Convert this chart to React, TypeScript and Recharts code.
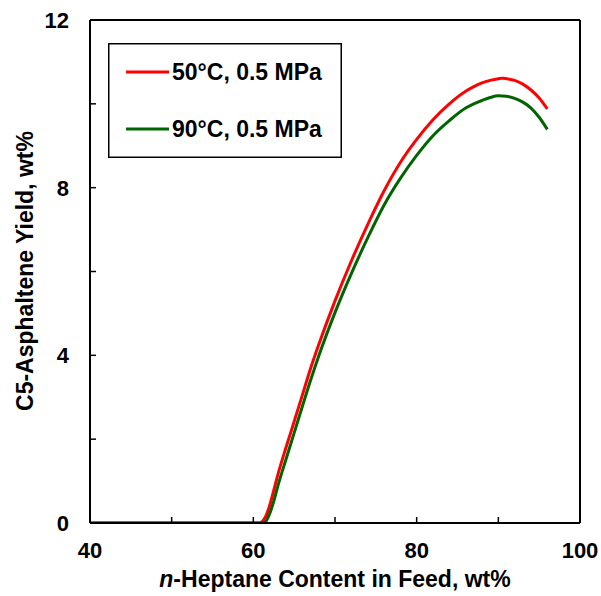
import React from "react";
import { LineChart, Line, XAxis, YAxis, ReferenceLine, Legend, Label } from "recharts";

const heptane50 = [40, 60.8, 61, 61.5, 62, 62.5, 63, 64, 65, 66, 67, 68, 70, 72, 74, 76, 78, 80, 82, 84, 86, 87, 88, 89, 90, 90.5, 91, 92, 93, 94, 95, 96];
const yield50 = [0, 0, 0.02, 0.15, 0.42, 0.78, 1.15, 1.8, 2.42, 3.05, 3.68, 4.25, 5.3, 6.25, 7.12, 7.92, 8.6, 9.15, 9.62, 10.0, 10.3, 10.41, 10.5, 10.56, 10.6, 10.61, 10.6, 10.56, 10.47, 10.33, 10.14, 9.88];

const heptane90 = [40, 61.2, 61.5, 62, 62.5, 63, 64, 65, 66, 67, 68, 70, 72, 74, 76, 78, 80, 82, 84, 86, 87, 88, 89, 90, 91, 92, 93, 94, 95, 96];
const yield90 = [0, 0, 0.03, 0.22, 0.52, 0.88, 1.52, 2.15, 2.78, 3.4, 3.98, 5.02, 5.95, 6.8, 7.58, 8.22, 8.77, 9.24, 9.6, 9.9, 10.0, 10.08, 10.15, 10.19, 10.18, 10.13, 10.04, 9.9, 9.68, 9.39];

const xTicks = [40, 50, 60, 70, 80, 90, 100];
const xLabels = [40, 60, 80, 100];
const yTicks = [0, 2, 4, 6, 8, 10, 12];
const yLabels = [0, 4, 8, 12];

const seriesNames = ["50°C, 0.5 MPa", "90°C, 0.5 MPa"];
const seriesColors = ["#ff0000", "#006400"];

const data50 = heptane50.map((x, i) => ({ x, y: yield50[i] }));
const data90 = heptane90.map((x, i) => ({ x, y: yield90[i] }));

const FONT = "'Liberation Sans', Arial, sans-serif";

const XTick = (props: any) => {
  const { x, y, payload } = props;
  const v = payload.value;
  return (
    <g>
      <line x1={x} x2={x} y1={y} y2={y - 6} stroke="#000" strokeWidth={1.5} />
      {xLabels.includes(v) && (
        <text x={x} y={y + 35} textAnchor="middle" fontFamily={FONT} fontWeight="bold" fontSize={22} fill="#000">
          {v}
        </text>
      )}
    </g>
  );
};

const YTick = (props: any) => {
  const { x, y, payload } = props;
  const v = payload.value;
  return (
    <g>
      <line x1={x} x2={x + 6} y1={y} y2={y} stroke="#000" strokeWidth={1.5} />
      {yLabels.includes(v) && (
        <text x={x - 21} y={y + 8} textAnchor="end" fontFamily={FONT} fontWeight="bold" fontSize={22} fill="#000">
          {v}
        </text>
      )}
    </g>
  );
};

const LegendBox = () => (
  <svg width={234} height={115} style={{ display: "block" }}>
    <rect x={0.75} y={0.75} width={232.5} height={113.5} fill="#fff" stroke="#000" strokeWidth={1.5} />
    {seriesNames.map((name, i) => {
      const cy = i === 0 ? 29 : 86;
      return (
        <g key={name}>
          <line x1={18} x2={61} y1={cy} y2={cy} stroke={seriesColors[i]} strokeWidth={3} />
          <text x={64} y={cy + 8} fontFamily={FONT} fontWeight="bold" fontSize={23} fill="#000">
            {name}
          </text>
        </g>
      );
    })}
  </svg>
);

export default function App() {
  return (
    <div style={{ position: "absolute", left: 0, top: 0, width: 601, height: 596 }}>
      <LineChart width={601} height={596} margin={{ top: 20, right: 21, left: 30, bottom: 23 }}>
        <XAxis
          dataKey="x"
          type="number"
          domain={[40, 100]}
          ticks={xTicks}
          interval={0}
          tickSize={0}
          tickMargin={0}
          tickLine={false}
          tick={<XTick />}
          axisLine={{ stroke: "#000", strokeWidth: 2 }}
          height={50}
          allowDataOverflow
        >
          <Label
            content={() => (
              <text x={335} y={587} textAnchor="middle" fontFamily={FONT} fontWeight="bold" fontSize={23} fill="#000">
                <tspan fontStyle="italic">n</tspan>-Heptane Content in Feed, wt%
              </text>
            )}
          />
        </XAxis>
        <YAxis
          type="number"
          domain={[0, 12]}
          ticks={yTicks}
          interval={0}
          tickSize={0}
          tickMargin={0}
          tickLine={false}
          tick={<YTick />}
          axisLine={{ stroke: "#000", strokeWidth: 2 }}
          width={60}
          allowDataOverflow
        >
          <Label
            content={() => (
              <text
                x={33}
                y={271}
                transform="rotate(-90, 33, 271)"
                textAnchor="middle"
                fontFamily={FONT}
                fontWeight="bold"
                fontSize={23}
                fill="#000"
              >
                C5-Asphaltene Yield, wt%
              </text>
            )}
          />
        </YAxis>
        <ReferenceLine y={12} stroke="#000" strokeWidth={2} />
        <ReferenceLine x={100} stroke="#000" strokeWidth={2} />
        <Legend
          layout="vertical"
          align="center"
          verticalAlign="middle"
          wrapperStyle={{ position: "absolute", left: 108, top: 43, width: 234, height: 115 }}
          content={() => <LegendBox />}
        />
        <Line
          data={data50}
          dataKey="y"
          name={seriesNames[0]}
          type="monotone"
          stroke={seriesColors[0]}
          strokeWidth={3}
          dot={false}
          isAnimationActive={false}
        />
        <Line
          data={data90}
          dataKey="y"
          name={seriesNames[1]}
          type="monotone"
          stroke={seriesColors[1]}
          strokeWidth={3}
          dot={false}
          isAnimationActive={false}
        />
      </LineChart>
    </div>
  );
}
